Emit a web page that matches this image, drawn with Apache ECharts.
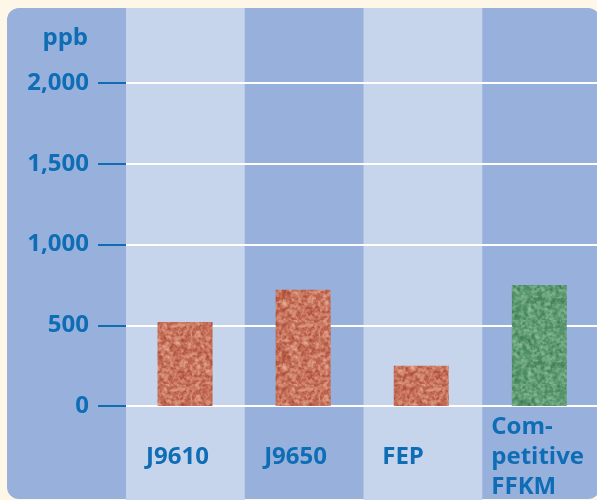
<!DOCTYPE html>
<html>
<head>
<meta charset="utf-8">
<script src="https://cdn.jsdelivr.net/npm/echarts@6/dist/echarts.min.js"></script>
<style>
  html, body { margin: 0; padding: 0; background: #fef6e6; overflow: hidden; }
  #chart { width: 601px; height: 500px; }
</style>
</head>
<body>
<div id="chart"></div>
<script>
const categories = ['J9610', 'J9650', 'FEP', 'Com-\npetitive\nFFKM'];
const values = [520, 720, 250, 750];
const yTicks = [0, 500, 1000, 1500, 2000];

const BLUE = '#0e6db5';
const FONT = '"Open Sans", "DejaVu Sans", sans-serif';

// speckled texture for the bars (style only)
function texture(base, light, dark, seed) {
  const c = document.createElement('canvas');
  c.width = c.height = 64;
  const ctx = c.getContext('2d');
  let s = seed;
  const rnd = () => (s = (s * 16807) % 2147483647) / 2147483647;
  ctx.fillStyle = base;
  ctx.fillRect(0, 0, 64, 64);
  for (let i = 0; i < 1800; i++) {
    const x = rnd() * 64, y = rnd() * 64, r = 0.7 + rnd() * 1.5;
    ctx.fillStyle = rnd() < 0.5 ? light : dark;
    ctx.globalAlpha = 0.28;
    ctx.beginPath();
    ctx.arc(x, y, r, 0, Math.PI * 2);
    ctx.fill();
  }
  return c;
}
const redTex = texture('#c8735c', '#efb8a2', '#a5402b', 7);
const greenTex = texture('#5e9d73', '#93c6a1', '#387850', 13);

const chart = echarts.init(document.getElementById('chart'));

const option = {
  backgroundColor: '#fef6e6',
  textStyle: { fontFamily: FONT },
  graphic: [{
    type: 'rect',
    z: -100,
    shape: { x: 7, y: 8, width: 593, height: 491, r: 12 },
    style: { fill: '#97b1dc' }
  }],
  grid: [
    { left: 126, right: 0, top: 83, bottom: 94 },
    { left: 126, right: 0, top: 8, bottom: 0 }
  ],
  xAxis: [
    {
      type: 'category',
      gridIndex: 0,
      data: categories,
      axisLine: { show: false },
      axisTick: { show: false },
      axisLabel: {
        interval: 0,
        hideOverlap: false,
        showMinLabel: true,
        showMaxLabel: true,
        margin: 51,
        align: 'center',
        verticalAlign: 'middle',
        formatter: (v, i) => {
          const k = i === 3 ? 'b' : 'a';
          return v.split('\n').map(t => '{' + k + '|' + t + '}').join('\n');
        },
        rich: {
          a: { width: 98, padding: [0, 0, 0, 20], align: 'left', color: BLUE, fontFamily: FONT, fontWeight: 'bold', fontSize: 24, lineHeight: 30 },
          b: { width: 107, padding: [0, 0, 0, 11], align: 'left', color: BLUE, fontFamily: FONT, fontWeight: 'bold', fontSize: 24, lineHeight: 30 }
        }
      }
    },
    {
      type: 'category',
      gridIndex: 1,
      data: categories,
      z: -50,
      axisLine: { show: false },
      axisTick: { show: false },
      axisLabel: { show: false },
      splitArea: { show: true, interval: 0, areaStyle: { color: ['#c6d5ec', 'rgba(0,0,0,0)'] } }
    }
  ],
  yAxis: [
    {
      type: 'value',
      gridIndex: 0,
      min: 0,
      max: 2000,
      interval: 500,
      name: 'ppb',
      nameLocation: 'end',
      nameGap: 45,
      nameTextStyle: {
        color: BLUE, fontFamily: FONT, fontWeight: 'bold', fontSize: 24,
        align: 'right', verticalAlign: 'middle', padding: [0, 38, 0, 0]
      },
      axisLine: { show: false },
      axisTick: { show: true, length: 28, lineStyle: { color: BLUE, width: 2 } },
      axisLabel: {
        margin: 37,
        color: BLUE, fontFamily: FONT, fontWeight: 'bold', fontSize: 24,
        formatter: v => v.toLocaleString('en-US')
      },
      splitLine: { show: true, lineStyle: { color: '#ffffff', width: 2 } }
    },
    {
      type: 'value',
      gridIndex: 1,
      show: false,
      splitLine: { show: false }
    }
  ],
  series: [{
    type: 'bar',
    xAxisIndex: 0,
    yAxisIndex: 0,
    barWidth: 55,
    z: 3,
    data: values.map((v, i) => ({
      value: v,
      itemStyle: { color: { image: i === 3 ? greenTex : redTex, repeat: 'repeat' } }
    }))
  }]
};

chart.setOption(option);
</script>
</body>
</html>
